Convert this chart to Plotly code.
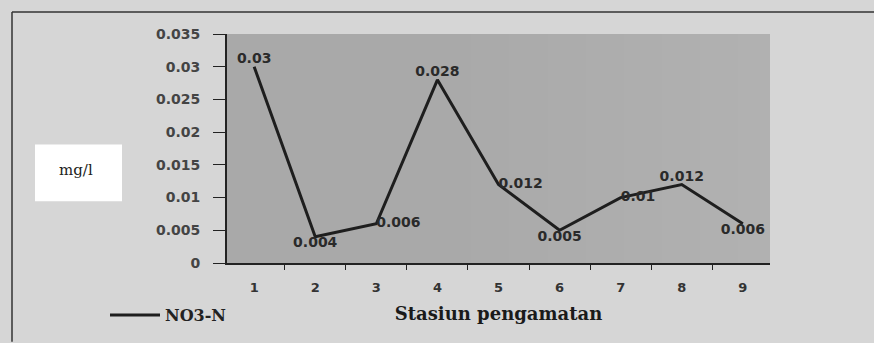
import plotly.graph_objects as go

stations = ["1", "2", "3", "4", "5", "6", "7", "8", "9"]
no3n = [0.03, 0.004, 0.006, 0.028, 0.012, 0.005, 0.01, 0.012, 0.006]
label_pos = ["top center", "bottom center", "middle right", "top center", "middle right",
             "bottom center", "middle right", "top center", "bottom center"]
y_ticks = [0, 0.005, 0.01, 0.015, 0.02, 0.025, 0.03, 0.035]
y_ticktext = ["0", "0.005", "0.01", "0.015", "0.02", "0.025", "0.03", "0.035"]

W, H = 874, 343
L, R, T, B = 227, 770, 34, 264


def px(x):
    return (x - L) / (R - L)


def py(y):
    return (B - y) / (B - T)


fig = go.Figure()
fig.add_trace(go.Scatter(
    x=stations, y=no3n, mode="lines+text", name="NO3-N",
    line=dict(color="#1e1e1e", width=3),
    text=[str(v) for v in no3n], textposition=label_pos,
    textfont=dict(family="DejaVu Sans", size=14, color="#2a2a2a", weight="bold"),
    cliponaxis=False,
))

shapes = [
    dict(type="line", xref="paper", yref="paper", x0=px(12), x1=px(874), y0=py(12), y1=py(12),
         line=dict(color="#333", width=1.5)),
    dict(type="line", xref="paper", yref="paper", x0=px(12), x1=px(12), y0=py(12), y1=py(343),
         line=dict(color="#333", width=1.5)),
    dict(type="rect", xref="paper", yref="paper", x0=px(35), x1=px(122), y0=py(145), y1=py(202),
         fillcolor="white", line=dict(width=0), layer="below"),
]
# soft lightening toward the right of the plot area
for i in range(8):
    shapes.append(dict(type="rect", xref="paper", yref="paper", x0=0.45 + i * 0.07, x1=1, y0=0, y1=1,
                       fillcolor="rgba(255,255,255,0.018)", line=dict(width=0), layer="below"))

annotations = [
    dict(xref="paper", yref="paper", x=px(76), y=py(171), xanchor="center", yanchor="middle",
         text="mg/l", showarrow=False,
         font=dict(family="DejaVu Serif", size=15, color="#222")),
]

fig.update_layout(
    width=W, height=H,
    margin=dict(l=L, r=W - R, t=T, b=H - B),
    paper_bgcolor="#d6d6d6",
    plot_bgcolor="#a9a9a9",
    showlegend=True,
    legend=dict(x=px(105), y=py(315), xanchor="left", yanchor="middle", bgcolor="rgba(0,0,0,0)",
                font=dict(family="DejaVu Serif", size=16, color="#222", weight="bold"),
                itemwidth=50),
    shapes=shapes,
    annotations=annotations,
    xaxis=dict(
        type="category", tickson="boundaries", ticks="outside", ticklen=5, tickcolor="#222",
        showline=True, linecolor="#222", linewidth=2, showgrid=False,
        tickfont=dict(family="DejaVu Sans", size=13, color="#333", weight="bold"),
        ticklabelstandoff=11,
        title=dict(text="Stasiun pengamatan", standoff=14,
                   font=dict(family="DejaVu Serif", size=18, color="#1a1a1a", weight="bold")),
    ),
    yaxis=dict(
        range=[0, 0.035], tickvals=y_ticks, ticktext=y_ticktext,
        ticks="outside", ticklen=12, tickcolor="#222",
        showline=True, linecolor="#222", linewidth=2, showgrid=False, zeroline=False,
        tickfont=dict(family="DejaVu Sans", size=14, color="#444", weight="bold"),
        ticklabelstandoff=10,
    ),
)

fig.write_html("out.html", config={"displayModeBar": False},
               post_script="document.body.style.margin='0';")
